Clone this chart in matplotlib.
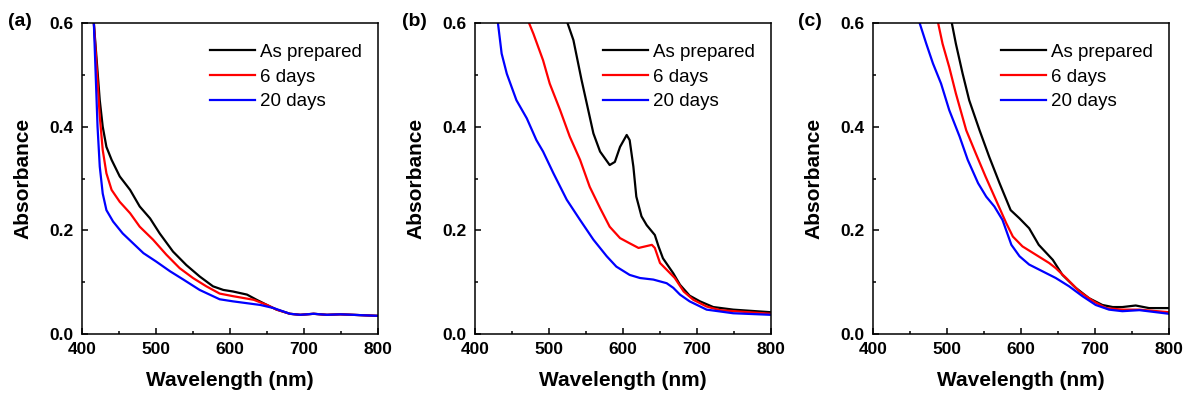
import numpy as np
import matplotlib.pyplot as plt

plt.rcParams['font.family'] = ['Liberation Sans', 'DejaVu Sans']

labels = ['As prepared', '6 days', '20 days']
colors = ['black', 'red', 'blue']

# panel (a)
a_black_x = [414, 416, 424, 428, 433, 440, 451, 465, 478, 492, 505, 523, 541, 559, 577, 591, 604, 623, 636, 650, 663, 681, 695, 713, 731, 749, 800]
a_black_y = [0.65, 0.60, 0.451, 0.40, 0.361, 0.336, 0.304, 0.278, 0.246, 0.223, 0.194, 0.159, 0.133, 0.111, 0.092, 0.085, 0.082, 0.076, 0.066, 0.056, 0.047, 0.039, 0.037, 0.039, 0.037, 0.038, 0.035]
a_red_x = [414, 416, 424, 428, 433, 440, 451, 465, 478, 496, 514, 532, 550, 568, 586, 604, 632, 650, 663, 681, 695, 713, 731, 749, 800]
a_red_y = [0.65, 0.60, 0.42, 0.355, 0.31, 0.278, 0.255, 0.233, 0.207, 0.182, 0.153, 0.127, 0.108, 0.092, 0.078, 0.073, 0.066, 0.056, 0.047, 0.039, 0.037, 0.039, 0.037, 0.038, 0.035]
a_blue_x = [414, 416, 421, 424, 428, 433, 442, 455, 469, 483, 500, 519, 537, 559, 586, 604, 641, 659, 681, 695, 713, 731, 749, 800]
a_blue_y = [0.65, 0.60, 0.40, 0.323, 0.271, 0.239, 0.217, 0.194, 0.175, 0.156, 0.14, 0.121, 0.105, 0.085, 0.067, 0.063, 0.056, 0.05, 0.039, 0.037, 0.039, 0.037, 0.038, 0.035]

# panel (b)
b_black_x = [522, 525, 533, 544, 551, 560, 569, 582, 589, 596, 605, 609, 614, 618, 625, 632, 643, 648, 654, 668, 677, 690, 704, 722, 749, 800]
b_black_y = [0.65, 0.60, 0.567, 0.49, 0.445, 0.387, 0.352, 0.326, 0.332, 0.361, 0.384, 0.374, 0.323, 0.265, 0.227, 0.21, 0.191, 0.169, 0.146, 0.117, 0.095, 0.074, 0.063, 0.052, 0.047, 0.042]
b_red_x = [470, 473, 479, 492, 501, 515, 528, 542, 555, 569, 582, 596, 609, 621, 630, 639, 643, 650, 659, 670, 682, 695, 713, 731, 800]
b_red_y = [0.65, 0.60, 0.579, 0.528, 0.483, 0.432, 0.381, 0.336, 0.284, 0.243, 0.207, 0.185, 0.175, 0.166, 0.169, 0.172, 0.166, 0.137, 0.124, 0.108, 0.082, 0.066, 0.053, 0.046, 0.039]
b_blue_x = [428, 431, 436, 443, 456, 470, 483, 492, 506, 524, 542, 560, 578, 591, 609, 623, 641, 659, 668, 677, 690, 713, 749, 800]
b_blue_y = [0.65, 0.60, 0.541, 0.502, 0.451, 0.416, 0.374, 0.352, 0.31, 0.259, 0.22, 0.182, 0.15, 0.13, 0.114, 0.108, 0.105, 0.098, 0.089, 0.076, 0.063, 0.047, 0.04, 0.037]

# panel (c)
c_black_x = [503, 506.5, 512, 521, 530, 544, 557, 571, 586, 598, 611, 624, 643, 656, 674, 692, 710, 724, 737, 755, 773, 800]
c_black_y = [0.65, 0.60, 0.56, 0.503, 0.451, 0.393, 0.342, 0.291, 0.239, 0.223, 0.204, 0.172, 0.143, 0.114, 0.089, 0.069, 0.056, 0.052, 0.052, 0.055, 0.05, 0.05]
c_red_x = [485, 488, 494, 503, 512, 526, 539, 552, 566, 580, 589, 602, 620, 638, 647, 661, 679, 698, 715, 737, 760, 800]
c_red_y = [0.65, 0.60, 0.56, 0.515, 0.464, 0.393, 0.348, 0.304, 0.259, 0.214, 0.188, 0.169, 0.153, 0.137, 0.127, 0.108, 0.082, 0.063, 0.05, 0.047, 0.047, 0.042]
c_blue_x = [460, 463, 472, 481, 492, 503, 517, 528, 542, 553, 564, 575, 587, 598, 611, 629, 647, 665, 683, 701, 719, 737, 760, 800]
c_blue_y = [0.65, 0.60, 0.56, 0.522, 0.483, 0.432, 0.381, 0.336, 0.291, 0.265, 0.246, 0.22, 0.172, 0.15, 0.134, 0.121, 0.108, 0.092, 0.073, 0.056, 0.047, 0.044, 0.046, 0.039]

panels = [
    ('(a)', [(a_black_x, a_black_y), (a_red_x, a_red_y), (a_blue_x, a_blue_y)]),
    ('(b)', [(b_black_x, b_black_y), (b_red_x, b_red_y), (b_blue_x, b_blue_y)]),
    ('(c)', [(c_black_x, c_black_y), (c_red_x, c_red_y), (c_blue_x, c_blue_y)]),
]

W, H = 1188, 396
fig = plt.figure(figsize=(W / 100, H / 100), dpi=100)

lefts = [82, 475, 873]
label_x = [8, 402, 798]

for i, (tag, series) in enumerate(panels):
    ax = fig.add_axes([lefts[i] / W, 1 - 334 / H, 296 / W, 311 / H])
    for (x, y), c, lab in zip(series, colors, labels):
        ax.plot(x, y, color=c, lw=1.6, label=lab)
    ax.set_xlim(400, 800)
    ax.set_ylim(0, 0.6)
    ax.set_xticks([400, 500, 600, 700, 800])
    ax.set_xticks([450, 550, 650, 750], minor=True)
    ax.set_yticks([0.0, 0.2, 0.4, 0.6])
    ax.set_yticks([0.1, 0.3, 0.5], minor=True)
    ax.tick_params(which='both', direction='in', width=1.1)
    ax.tick_params(which='major', length=4, labelsize=12.5)
    ax.tick_params(axis='x', which='major', pad=6)
    ax.tick_params(axis='y', which='major', pad=6)
    ax.tick_params(which='minor', length=2.5)
    for t in ax.get_xticklabels() + ax.get_yticklabels():
        t.set_fontweight('bold')
    for s in ax.spines.values():
        s.set_linewidth(1.1)
    ax.set_xlabel('Wavelength (nm)', fontsize=15, fontweight='bold', labelpad=10)
    ax.set_ylabel('Absorbance', fontsize=15, fontweight='bold', labelpad=12)
    ax.legend(loc='upper right', bbox_to_anchor=(1.0, 0.984), frameon=False,
              fontsize=13.5, handlelength=2.4, handletextpad=0.3,
              labelspacing=0.4, borderaxespad=0.45)
    fig.text(label_x[i] / W, 1 - 22 / H, tag, fontsize=14, fontweight='bold', va='center')

fig.savefig('out.png', dpi=100)
